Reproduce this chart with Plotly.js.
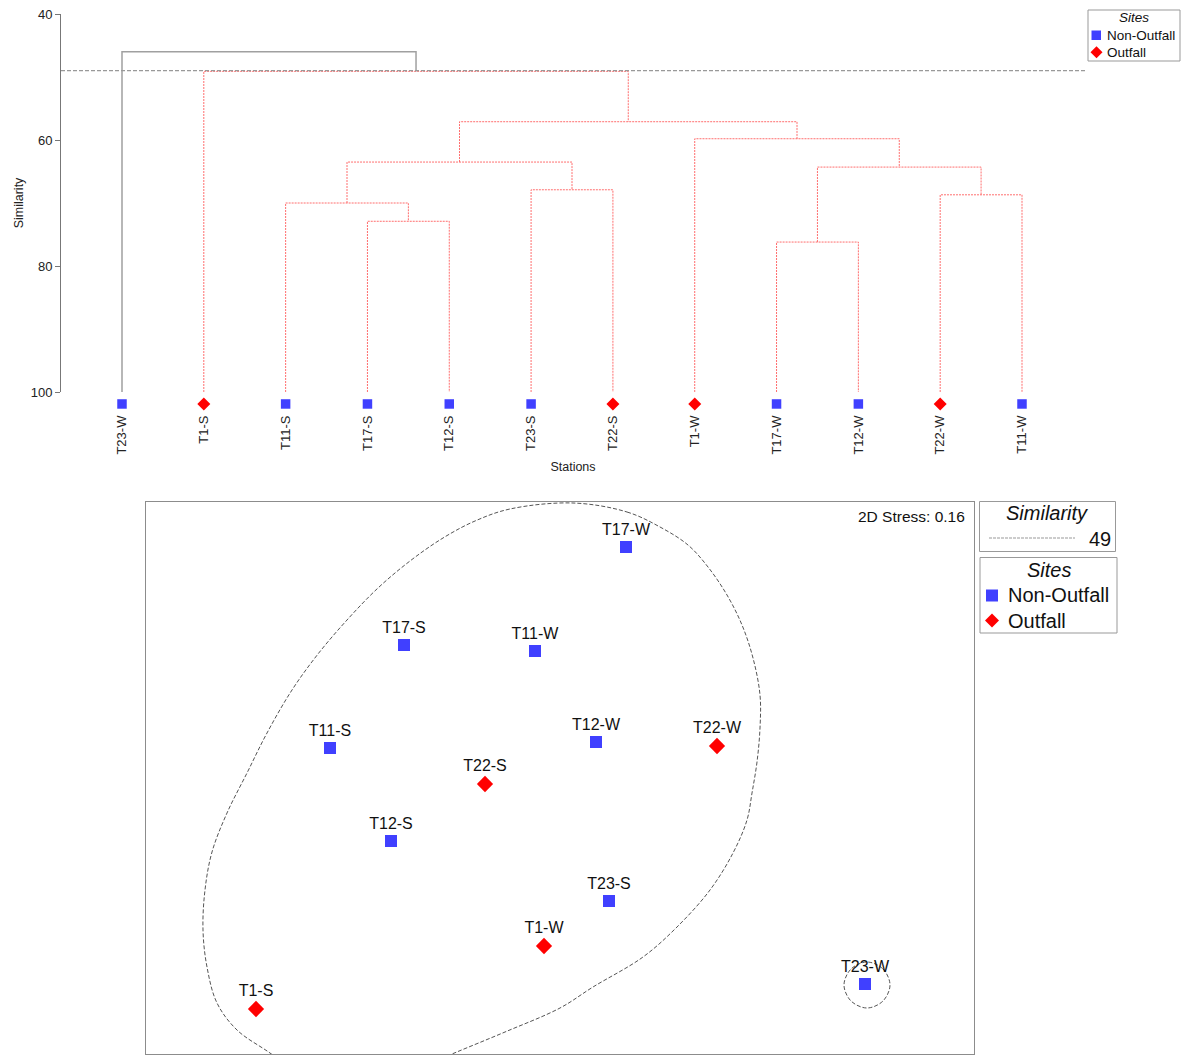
<!DOCTYPE html>
<html><head><meta charset="utf-8">
<script src="https://cdn.plot.ly/plotly-3.0.1.min.js"></script>
<style>html,body{margin:0;padding:0;background:#fff}#chart{width:1182px;height:1055px}</style>
</head><body><div id="chart"></div>
<script>
// ---------- Dendrogram data ----------
const leafLabels = ['T23-W','T1-S','T11-S','T17-S','T12-S','T23-S','T22-S','T1-W','T17-W','T12-W','T22-W','T11-W'];
const leafSites  = ['Non-Outfall','Outfall','Non-Outfall','Non-Outfall','Non-Outfall','Non-Outfall','Outfall','Outfall','Non-Outfall','Non-Outfall','Outfall','Non-Outfall'];
// merges: ids 0-11 are leaves, id 12+k is merge k
const mergeLeft  = [3, 2, 5, 13, 8, 10, 16, 7, 15, 1, 0];
const mergeRight = [4, 12, 6, 14, 9, 11, 17, 18, 19, 20, 21];
const mergeSimilarity = [72.9, 70.0, 67.9, 63.5, 76.2, 68.7, 64.3, 59.8, 57.1, 49.1, 46.0];
const similarityCut = 49;
const simTicks = [40, 60, 80, 100];

// ---------- MDS data ----------
const mdsLabels = ['T17-W','T17-S','T11-W','T11-S','T12-W','T22-W','T22-S','T12-S','T23-S','T1-W','T1-S','T23-W'];
const mdsSites  = ['Non-Outfall','Non-Outfall','Non-Outfall','Non-Outfall','Non-Outfall','Outfall','Outfall','Non-Outfall','Non-Outfall','Outfall','Outfall','Non-Outfall'];
const mds1 = [0.66, -1.56, -0.25, -2.30, 0.36, 1.57, -0.75, -1.69, 0.49, -0.16, -3.04, 3.05];
const mds2 = [2.31, 1.33, 1.27, 0.30, 0.36, 0.32, -0.06, -0.63, -1.23, -1.68, -2.31, -2.06];
const stress2D = 0.16;
// 49% similarity group outlines
const groupAX = [0.13,0.67,1.00,1.28,1.48,1.67,1.82,1.93,2.00,2.00,1.97,1.92,1.87,1.73,1.50,1.17,0.83,0.33,0.00,-0.55,-1.08,-1.50,-2.10,-2.60,-2.90,-3.23,-3.43,-3.53,-3.57,-3.55,-3.48,-3.33,-3.13,-2.93,-2.68,-2.42,-2.13,-1.82,-1.50,-1.17,-0.85,-0.50,0.13];
const groupAY = [2.75,2.66,2.51,2.33,2.11,1.83,1.53,1.20,0.83,0.50,0.16,-0.15,-0.42,-0.75,-1.12,-1.49,-1.79,-2.09,-2.30,-2.54,-2.76,-2.94,-3.07,-2.97,-2.75,-2.52,-2.25,-1.89,-1.52,-1.12,-0.74,-0.35,0.05,0.45,0.88,1.24,1.58,1.90,2.17,2.40,2.57,2.69,2.75];
const groupBX = [3.07,3.23,3.30,3.23,3.07,2.91,2.84,2.91,3.07];
const groupBY = [-1.84,-1.91,-2.07,-2.23,-2.30,-2.23,-2.07,-1.91,-1.84];

// ---------- styles ----------
const FONT = 'Liberation Sans, Arial, sans-serif';
const BLUE = 'rgb(64,64,255)';
const RED = 'rgb(255,0,0)';
const W = 1182, H = 1055;
const PX = v => v / W;
const PY = v => 1 - v / H;

// build dendrogram segments
const nodeX = leafLabels.map((_, i) => i + 1);
const nodeH = leafLabels.map(() => 100);
const redX = [], redY = [], grayX = [], grayY = [];
mergeSimilarity.forEach((h, k) => {
  const a = mergeLeft[k], b = mergeRight[k];
  const xa = nodeX[a], xb = nodeX[b];
  const seg = [[xa, nodeH[a]], [xa, h], [xb, h], [xb, nodeH[b]]];
  const tx = h >= similarityCut ? redX : grayX;
  const ty = h >= similarityCut ? redY : grayY;
  seg.forEach(p => { tx.push(p[0]); ty.push(p[1]); });
  tx.push(null); ty.push(null);
  nodeX.push((xa + xb) / 2);
  nodeH.push(h);
});

const leafMarkY = 101.9;
function leafTrace(site, symbol, color, size) {
  const xs = [], ys = [];
  leafSites.forEach((s, i) => { if (s === site) { xs.push(i + 1); ys.push(leafMarkY); } });
  return {x: xs, y: ys, type: 'scatter', mode: 'markers', xaxis: 'x', yaxis: 'y3', cliponaxis: false,
    marker: {symbol: symbol, color: color, size: size, line: {width: 0}}, name: site, showlegend: false, hoverinfo: 'skip'};
}
function mdsTrace(site, symbol, color, size) {
  const xs = [], ys = [], tx = [];
  mdsSites.forEach((s, i) => { if (s === site) { xs.push(mds1[i]); ys.push(mds2[i]); tx.push(mdsLabels[i]); } });
  return {x: xs, y: ys, text: tx, type: 'scatter', mode: 'markers+text', xaxis: 'x2', yaxis: 'y2', cliponaxis: false,
    textposition: 'top center', textfont: {family: FONT, size: 16, color: '#111'},
    marker: {symbol: symbol, color: color, size: size, line: {width: 0}}, name: site, showlegend: false};
}

const traces = [
  {x: redX, y: redY, type: 'scatter', mode: 'lines', xaxis: 'x', yaxis: 'y', line: {color: 'rgb(255,110,110)', width: 1, dash: '2px,1px'}, showlegend: false, hoverinfo: 'skip'},
  {x: grayX, y: grayY, type: 'scatter', mode: 'lines', xaxis: 'x', yaxis: 'y', line: {color: '#a0a0a0', width: 1.5}, showlegend: false, hoverinfo: 'skip'},
  leafTrace('Non-Outfall', 'square', BLUE, 9.5),
  leafTrace('Outfall', 'diamond', RED, 10),
  {x: groupAX, y: groupAY, type: 'scatter', mode: 'lines', xaxis: 'x2', yaxis: 'y2', line: {color: '#555', width: 1, dash: '4px,2px', shape: 'spline', smoothing: 1}, showlegend: false, hoverinfo: 'skip'},
  {x: groupBX, y: groupBY, type: 'scatter', mode: 'lines', xaxis: 'x2', yaxis: 'y2', line: {color: '#555', width: 1, dash: '4px,2px', shape: 'spline', smoothing: 1}, showlegend: false, hoverinfo: 'skip'},
  mdsTrace('Non-Outfall', 'square', BLUE, 12),
  mdsTrace('Outfall', 'diamond', RED, 12.5)
];

// manual legends
const shapes = [
  {type: 'line', xref: 'x domain', yref: 'y', x0: 0, x1: 1, y0: similarityCut, y1: similarityCut, line: {color: '#999', width: 1.2, dash: '4px,2px'}},
  // top legend
  {type: 'rect', xref: 'paper', yref: 'paper', x0: PX(1088), x1: PX(1180), y0: PY(61), y1: PY(10), line: {color: '#999', width: 1}},
  {type: 'rect', xref: 'paper', yref: 'paper', x0: PX(1091.5), x1: PX(1101), y0: PY(40), y1: PY(30.5), fillcolor: BLUE, line: {width: 0}},
  {type: 'path', xref: 'paper', yref: 'paper', path: `M ${PX(1096.5)},${PY(46.3)} L ${PX(1102.5)},${PY(52.3)} L ${PX(1096.5)},${PY(58.3)} L ${PX(1090.5)},${PY(52.3)} Z`, fillcolor: RED, line: {width: 0}},
  // bottom similarity legend
  {type: 'rect', xref: 'paper', yref: 'paper', x0: PX(979.5), x1: PX(1115.5), y0: PY(551.5), y1: PY(501.5), line: {color: '#999', width: 1}},
  {type: 'line', xref: 'paper', yref: 'paper', x0: PX(989), x1: PX(1075), y0: PY(538), y1: PY(538), line: {color: '#999', width: 1, dash: '3px,1px'}},
  // bottom sites legend
  {type: 'rect', xref: 'paper', yref: 'paper', x0: PX(980), x1: PX(1117), y0: PY(633), y1: PY(557.5), line: {color: '#999', width: 1}},
  {type: 'rect', xref: 'paper', yref: 'paper', x0: PX(986), x1: PX(998), y0: PY(601.5), y1: PY(589.5), fillcolor: BLUE, line: {width: 0}},
  {type: 'path', xref: 'paper', yref: 'paper', path: `M ${PX(992)},${PY(613.5)} L ${PX(999)},${PY(620.5)} L ${PX(992)},${PY(627.5)} L ${PX(985)},${PY(620.5)} Z`, fillcolor: RED, line: {width: 0}}
];
const ann = (text, x, y, size, xanchor, italic) => ({text: italic ? '<i>' + text + '</i>' : text, xref: 'paper', yref: 'paper', x: PX(x), y: PY(y),
  xanchor: xanchor, yanchor: 'middle', showarrow: false, borderpad: 0, font: {family: FONT, size: size, color: '#111'}});
const annotations = [
  ann('Sites', 1134, 18, 13.5, 'center', true),
  ann('Non-Outfall', 1106, 35.5, 13.5, 'left', false),
  ann('Outfall', 1106, 52.5, 13.5, 'left', false),
  ann('Similarity', 1047, 513, 20, 'center', true),
  ann(String(similarityCut), 1112, 538.5, 20, 'right', false),
  ann('Sites', 1049, 569.5, 20, 'center', true),
  ann('Non-Outfall', 1007, 595, 20, 'left', false),
  ann('Outfall', 1007, 620.5, 20, 'left', false),
  ann('2D Stress: ' + stress2D.toFixed(2), 966, 516.5, 15.5, 'right', false)
];

const layout = {
  width: W, height: H, margin: {l: 0, r: 0, t: 0, b: 0}, paper_bgcolor: '#fff', plot_bgcolor: 'rgba(0,0,0,0)',
  showlegend: false, font: {family: FONT, color: '#222'},
  xaxis: {domain: [PX(61), PX(1085)], range: [0.2545, 12.77], tickvals: leafLabels.map((_, i) => i + 1), ticktext: leafLabels,
    tickangle: -90, ticks: '', ticklabelstandoff: 20, tickfont: {size: 13, color: '#222'}, showline: false, showgrid: false, zeroline: false,
    title: {text: 'Stations', font: {size: 12.5, color: '#222'}, standoff: 8}, fixedrange: true},
  yaxis: {domain: [PY(392), PY(14)], range: [100, 40], tickvals: simTicks, ticks: 'outside', ticklen: 5, tickcolor: '#777',
    showline: true, linecolor: '#777', linewidth: 1, showgrid: false, zeroline: false, tickfont: {size: 13, color: '#222'},
    title: {text: 'Similarity', font: {size: 12.5, color: '#222'}, standoff: 4}, fixedrange: true},
  yaxis3: {domain: [PY(410), PY(14)], range: [40 + (410 - 14) / 6.3, 40], anchor: 'x', visible: false, fixedrange: true},
  xaxis2: {domain: [PX(146), PX(974)], range: [-4.14, 4.14], anchor: 'y2', showticklabels: false, ticks: '', showgrid: false, zeroline: false,
    showline: true, mirror: true, linecolor: '#8c8c8c', linewidth: 1, fixedrange: true},
  yaxis2: {domain: [PY(1054), PY(502)], range: [-2.76, 2.76], anchor: 'x2', showticklabels: false, ticks: '', showgrid: false, zeroline: false,
    showline: true, mirror: true, linecolor: '#8c8c8c', linewidth: 1, fixedrange: true},
  shapes: shapes, annotations: annotations
};
Plotly.newPlot('chart', traces, layout, {displayModeBar: false, staticPlot: true});
</script></body></html>
